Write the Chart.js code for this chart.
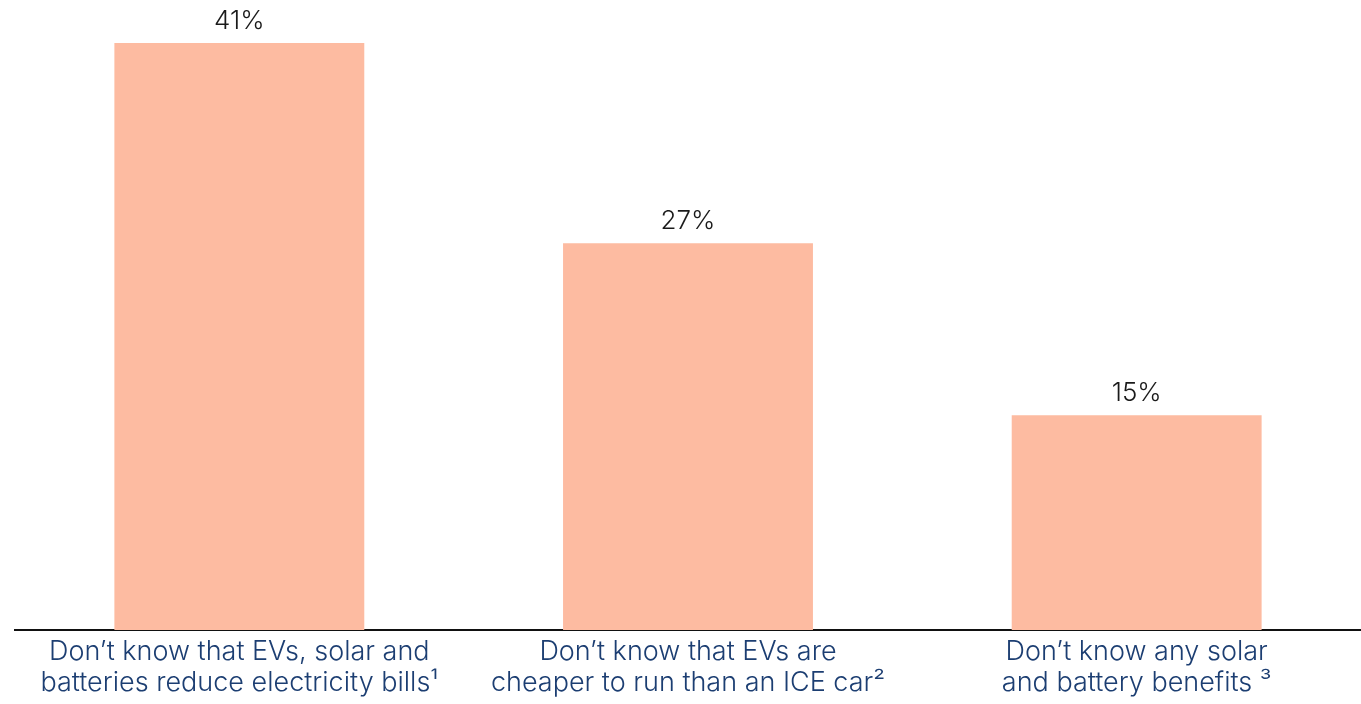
<!DOCTYPE html>
<html>
<head>
<meta charset="utf-8">
<script src="https://cdn.jsdelivr.net/npm/chart.js@4/dist/chart.umd.min.js"></script>
<style>
  html, body { margin: 0; padding: 0; background: #fff; }
  #wrap { width: 1361px; height: 704px; position: relative; }
</style>
</head>
<body>
<div id="wrap"><canvas id="barChart"></canvas></div>
<script>
// categories and values
const categories = [
    ['Don\u2019t know that EVs, solar and', 'batteries reduce electricity bills\u00B9'],
    ['Don\u2019t know that EVs are', 'cheaper to run than an ICE car\u00B2'],
    ['Don\u2019t know any solar', 'and battery benefits \u00B3']
];
const shares = [41, 27, 15];

// value labels above each bar
const valueLabels = {
    id: 'valueLabels',
    afterDatasetsDraw(chart) {
        const ctx = chart.ctx;
        const meta = chart.getDatasetMeta(0);
        ctx.save();
        ctx.font = '300 26px Inter, "Noto Sans", sans-serif';
        ctx.fillStyle = '#1a1a1a';
        ctx.textAlign = 'center';
        ctx.textBaseline = 'bottom';
        meta.data.forEach((bar, i) => {
            ctx.fillText(shares[i] + '%', bar.x, bar.y - 9);
        });
        ctx.restore();
    }
};

const ctx = document.getElementById('barChart').getContext('2d');
new Chart(ctx, {
    type: 'bar',
    data: {
        labels: categories,
        datasets: [{
            data: shares,
            backgroundColor: '#fdbba1',
            borderWidth: 0,
            categoryPercentage: 1,
            barPercentage: 0.557
        }]
    },
    options: {
        responsive: true,
        maintainAspectRatio: false,
        animation: false,
        layout: { padding: { left: 15, right: 0, top: 0, bottom: 0 } },
        plugins: {
            legend: { display: false },
            tooltip: { enabled: false }
        },
        scales: {
            y: {
                display: false,
                min: 0,
                max: 44
            },
            x: {
                grid: { display: false, drawTicks: false },
                border: { display: true, color: '#111111', width: 2 },
                ticks: {
                    color: '#1c3e72',
                    padding: 6,
                    maxRotation: 0,
                    autoSkip: false,
                    font: { family: 'Inter, "Noto Sans", sans-serif', size: 27, weight: 300, lineHeight: 1.15 }
                }
            }
        }
    },
    plugins: [valueLabels]
});
</script>
</body>
</html>
